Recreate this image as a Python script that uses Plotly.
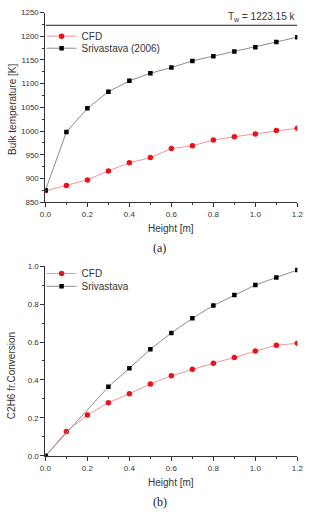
import plotly.graph_objects as go

height = [0.0, 0.1, 0.2, 0.3, 0.4, 0.5, 0.6, 0.7, 0.8, 0.9, 1.0, 1.1, 1.2]
temp_cfd = [874, 885, 897, 916, 933, 944, 963, 969, 981, 988, 994, 1001, 1006]
temp_sri = [875, 998, 1048, 1083, 1106, 1122, 1134, 1148, 1158, 1168, 1177, 1188, 1198]
TW = 1223.15

conv_cfd = [0.0, 0.129, 0.216, 0.28, 0.328, 0.379, 0.422, 0.457, 0.488, 0.519, 0.552, 0.583, 0.593]
height_sri_b = [0.0, 0.3, 0.4, 0.5, 0.6, 0.7, 0.8, 0.9, 1.0, 1.1, 1.2]
conv_sri = [0.0, 0.364, 0.462, 0.562, 0.648, 0.725, 0.792, 0.847, 0.900, 0.940, 0.979]

W, H = 312, 514
RED = "#e8141c"
REDLINE = "#f29494"
BLACK = "#000000"
GRAYLINE = "#8c8c8c"
FONT = "Liberation Sans, Arial, sans-serif"
SERIF = "Liberation Serif, Times New Roman, serif"

fig = go.Figure()

def cfd_trace(x, y, xa, ya, leg, name):
    return go.Scatter(x=x, y=y, xaxis=xa, yaxis=ya, mode="lines+markers", name=name,
                      legend=leg,
                      line=dict(color=REDLINE, width=1),
                      marker=dict(symbol="circle", size=5.5, color=RED))

def sri_trace(x, y, xa, ya, leg, name):
    return go.Scatter(x=x, y=y, xaxis=xa, yaxis=ya, mode="lines+markers", name=name,
                      legend=leg,
                      line=dict(color=GRAYLINE, width=1),
                      marker=dict(symbol="square", size=4.5, color=BLACK))

fig.add_trace(cfd_trace(height, temp_cfd, "x", "y", "legend2", "CFD"))
fig.add_trace(sri_trace(height, temp_sri, "x", "y", "legend3", "Srivastava (2006)"))
fig.add_trace(cfd_trace(height, conv_cfd, "x2", "y2", "legend4", "CFD"))
fig.add_trace(sri_trace(height_sri_b, conv_sri, "x2", "y2", "legend5", "Srivastava"))

def px_y(p):
    return 1 - p / H

def px_x(p):
    return p / W

xdom = [px_x(41), px_x(303)]
axis_common = dict(showline=True, linecolor="#333", linewidth=1, ticks="outside",
                   ticklen=4, tickcolor="#333", showgrid=False, zeroline=False,
                   tickfont=dict(family=FONT, size=8, color="#333"),
                   minor=dict(ticks="outside", ticklen=2, tickcolor="#333"))

def leg(ypx):
    return dict(x=px_x(37), y=px_y(ypx), xanchor="left", yanchor="middle",
                bgcolor="rgba(0,0,0,0)", borderwidth=0,
                font=dict(family=FONT, size=10, color="#333"),
                itemwidth=30)

fig.update_layout(
    width=W, height=H, margin=dict(l=0, r=0, t=0, b=0),
    paper_bgcolor="white", plot_bgcolor="white",
    font=dict(family=FONT, color="#333"),
    xaxis=dict(domain=xdom, range=[0, 1.2], anchor="y", dtick=0.2, tickformat=".1f",
               minor_dtick=0.1, **axis_common),
    yaxis=dict(domain=[px_y(201.7), px_y(8.7)], range=[850, 1250], anchor="x", dtick=50,
               minor_dtick=25, **axis_common),
    xaxis2=dict(domain=xdom, range=[0, 1.2], anchor="y2", dtick=0.2, tickformat=".1f",
                minor_dtick=0.1, **axis_common),
    yaxis2=dict(domain=[px_y(460), px_y(266.7)], range=[0, 1.0], anchor="x2", dtick=0.2,
                tickformat=".1f", minor_dtick=0.1, **axis_common),
    showlegend=True,
    legend2=leg(32.7),
    legend3=leg(45),
    legend4=leg(274.3),
    legend5=leg(287.3),
)

fig.add_shape(type="line", xref="x", yref="y", x0=0, x1=1.2, y0=TW, y1=TW,
              line=dict(color="#222", width=1))

def text_ann(text, xp, yp, size=10, family=FONT, angle=0, color="#333"):
    return dict(text=text, xref="paper", yref="paper", x=px_x(xp), y=px_y(yp),
                xanchor="center", yanchor="middle", textangle=angle, showarrow=False,
                font=dict(family=family, size=size, color=color))

ann = [
    dict(text="T<sub>w</sub> = 1223.15 k", xref="paper", yref="paper", x=px_x(303),
         y=px_y(21), xanchor="right", yanchor="bottom", showarrow=False,
         font=dict(family=FONT, size=10, color="#333")),
    text_ann("Bulk temperature [K]", 6, 107, angle=-90),
    text_ann("Height [m]", 172, 228),
    text_ann("(a)", 160, 248, size=12, family=SERIF, color="#222"),
    text_ann("C2H6 fr.Conversion", 6, 378, angle=-90),
    text_ann("Height [m]", 172, 487),
    text_ann("(b)", 160, 507, size=12, family=SERIF, color="#222"),
]
fig.update_layout(annotations=ann)

fig.write_html("out.html")
